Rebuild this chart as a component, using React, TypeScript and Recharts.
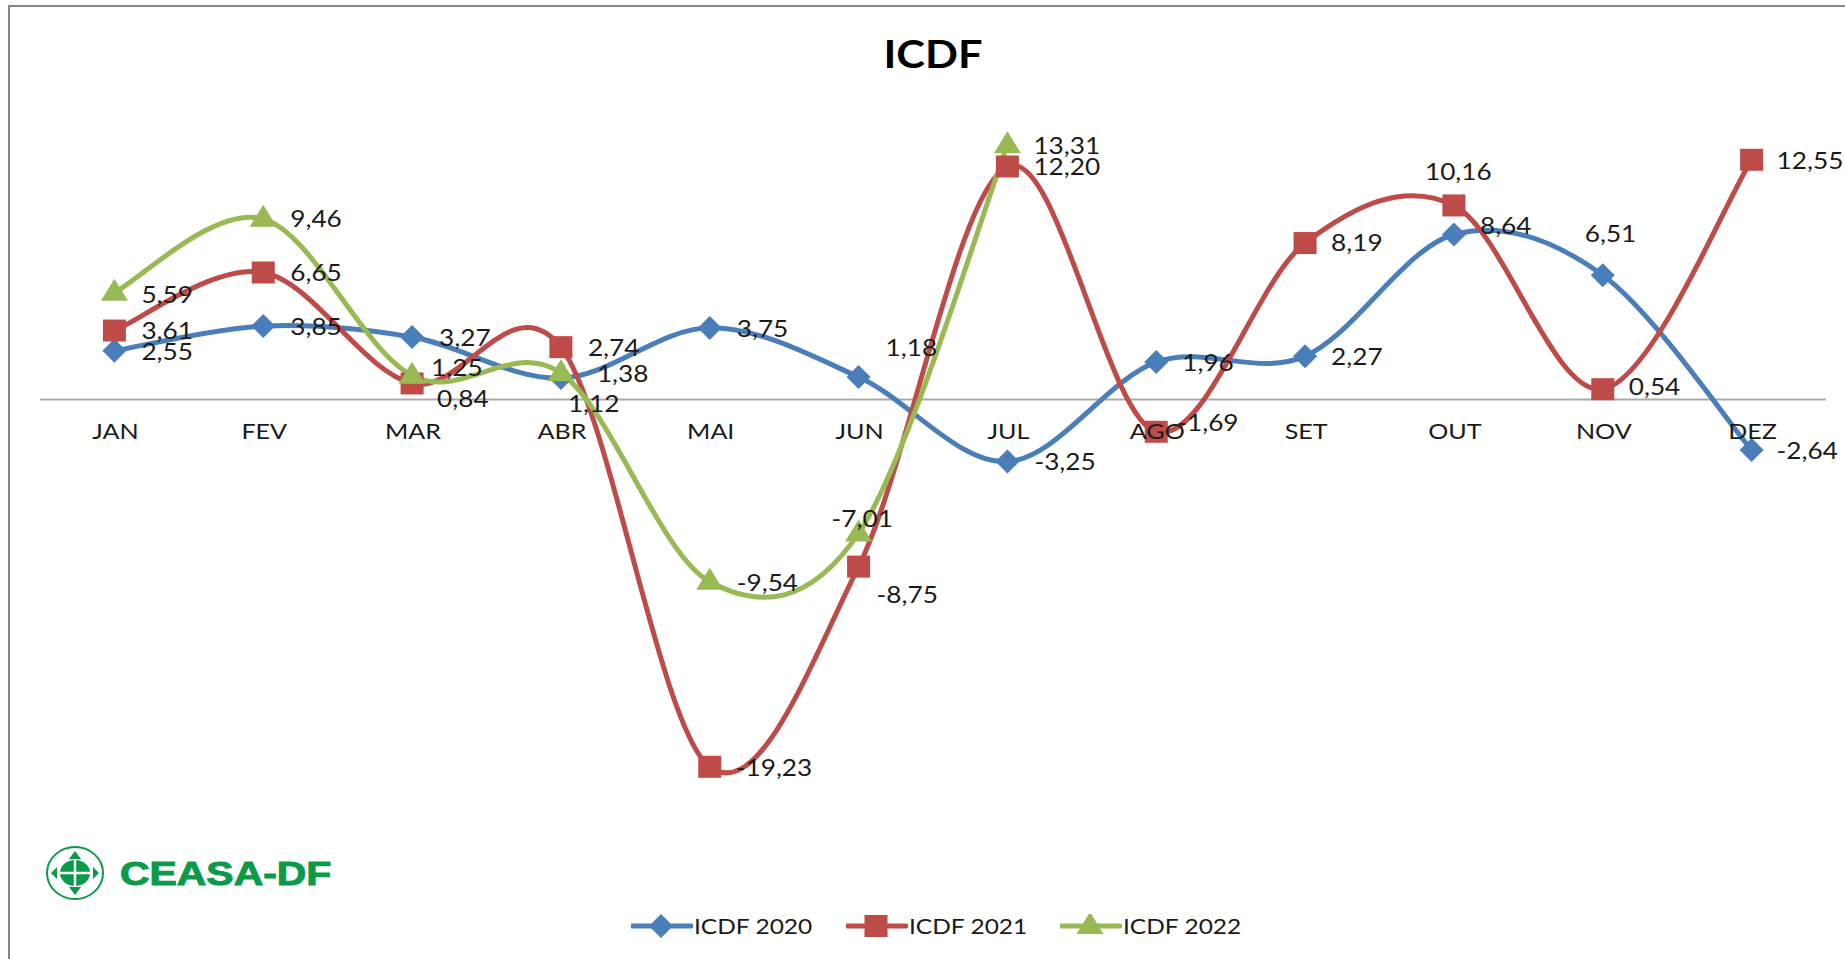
import { LineChart, Line, XAxis, YAxis, Legend, ReferenceLine } from "recharts";

const MONTHS = ["JAN", "FEV", "MAR", "ABR", "MAI", "JUN", "JUL", "AGO", "SET", "OUT", "NOV", "DEZ"];
const ICDF_2020 = [2.55, 3.85, 3.27, 1.12, 3.75, 1.18, -3.25, 1.96, 2.27, 8.64, 6.51, -2.64];
const ICDF_2021 = [3.61, 6.65, 0.84, 2.74, -19.23, -8.75, 12.2, -1.69, 8.19, 10.16, 0.54, 12.55];
const ICDF_2022 = [5.59, 9.46, 1.25, 1.38, -9.54, -7.01, 13.31, null, null, null, null, null];

const data = MONTHS.map((month, i) => ({
  month,
  icdf2020: ICDF_2020[i],
  icdf2021: ICDF_2021[i],
  icdf2022: ICDF_2022[i],
}));

// label offsets from the marker, pixels, dragged by hand in the original
const NUDGE_2020 = [[27, 0], [27, 0], [27, 0], [7, 25], [27, 0], [27, -30], [27, 0], [26, 0], [26, 0], [26, -9], [-18, -42], [25, 0]];
const NUDGE_2021 = [[27, 0], [27, 0], [25, 15], [27, 0], [26, 0], [18, 28], [26, 0], [21, -10], [26, -1], [-29, -34], [26, -3], [25, 0]];
const NUDGE_2022 = [[27, 1], [27, -1], [19, -8], [36, 0], [27, 0], [-27, -15], [26, 0]];

const BLUE = "#4A7EBB";
const RED = "#BE4B48";
const GREEN = "#98B954";
const TEXT = "#1a1a1a";
const FONT = "Lato, 'Open Sans', sans-serif";
const STRETCH = 1.14; // the picture is stretched sideways

// Excel style smoothing, same as a plain Catmull-Rom through the points
function excelCurve(context: any) {
  let pts: [number, number][] = [];
  return {
    areaStart() {},
    areaEnd() {},
    lineStart() {
      pts = [];
    },
    point(x: number, y: number) {
      pts.push([x, y]);
    },
    lineEnd() {
      if (!pts.length) return;
      context.moveTo(pts[0][0], pts[0][1]);
      for (let i = 0; i < pts.length - 1; i++) {
        const p0 = pts[Math.max(i - 1, 0)];
        const p1 = pts[i];
        const p2 = pts[i + 1];
        const p3 = pts[Math.min(i + 2, pts.length - 1)];
        context.bezierCurveTo(
          p1[0] + (p2[0] - p0[0]) / 6,
          p1[1] + (p2[1] - p0[1]) / 6,
          p2[0] - (p3[0] - p1[0]) / 6,
          p2[1] - (p3[1] - p1[1]) / 6,
          p2[0],
          p2[1]
        );
      }
    },
  };
}

function marker(kind: string, cx: number, cy: number, color: string) {
  if (kind === "diamond") {
    return <path d={`M${cx} ${cy - 12}L${cx + 12} ${cy}L${cx} ${cy + 12}L${cx - 12} ${cy}Z`} fill={color} />;
  }
  if (kind === "square") {
    return <rect x={cx - 11.5} y={cy - 11} width={23} height={22} fill={color} />;
  }
  return <path d={`M${cx} ${cy - 14}L${cx + 13.5} ${cy + 8}L${cx - 13.5} ${cy + 8}Z`} fill={color} />;
}

const makeDot = (kind: string, color: string) => (props: any) => {
  if (props.value == null) return <g key={props.index} />;
  return <g key={props.index}>{marker(kind, props.cx, props.cy, color)}</g>;
};

const makeLabel = (nudges: number[][]) => (props: any) => {
  const { x, y, value, index } = props;
  if (value == null) return <g key={index} />;
  const [dx, dy] = nudges[index];
  return (
    <text
      key={index}
      transform={`translate(${x + dx} ${y + dy}) scale(${STRETCH} 1)`}
      fontFamily={FONT}
      fontSize={23}
      fill={TEXT}
      dominantBaseline="central"
    >
      {String(value.toFixed(2)).replace(".", ",")}
    </text>
  );
};

function MonthTick(props: any) {
  const { x, payload } = props;
  return (
    <text
      transform={`translate(${x + 1} 431) scale(${STRETCH} 1)`}
      textAnchor="middle"
      dominantBaseline="central"
      fontFamily={FONT}
      fontSize={22}
      fill={TEXT}
    >
      {payload.value}
    </text>
  );
}

const LEGEND_KINDS: Record<string, string> = { icdf2020: "diamond", icdf2021: "square", icdf2022: "triangle" };

function ChartLegend(props: any) {
  return (
    <div style={{ display: "flex", alignItems: "center" }}>
      {(props.payload ?? []).map((item: any) => (
        <div key={item.dataKey} style={{ display: "flex", alignItems: "center", width: 214.5 }}>
          <svg width={62} height={24}>
            <line x1={1} x2={60} y1={12} y2={12} stroke={item.color} strokeWidth={5} strokeLinecap="round" />
            {marker(LEGEND_KINDS[item.dataKey], 30, 12, item.color)}
          </svg>
          <svg width={150} height={30}>
            <text
              transform={`translate(1 15) scale(${STRETCH} 1)`}
              dominantBaseline="central"
              fontFamily={FONT}
              fontSize={21.5}
              fill={TEXT}
            >
              {item.value}
            </text>
          </svg>
        </div>
      ))}
    </div>
  );
}

function Logo() {
  return (
    <svg width={320} height={70} style={{ position: "absolute", left: 40, top: 840 }}>
      <ellipse cx={35} cy={33} rx={28} ry={26} fill="none" stroke="#0a9a48" strokeWidth={2} />
      <path d="M35 11l6 8h-12zM35 55l6-8h-12zM11 33l6-6v12zM59 33l-6-6v12z" fill="#0a9a48" />
      <ellipse cx={35} cy={33} rx={15} ry={13} fill="#0a9a48" />
      <path d="M35 20v26M20 33h30" stroke="#fff" strokeWidth={2.5} />
      <text
        transform="translate(80 33) scale(1.24 1)"
        dominantBaseline="central"
        fontFamily="'Liberation Sans', Arial, sans-serif"
        fontWeight={700}
        fontSize={33}
        fill="#0a9a48"
        stroke="#0a9a48"
        strokeWidth={1}
      >
        CEASA-DF
      </text>
    </svg>
  );
}

export default function App() {
  return (
    <div style={{ position: "absolute", left: 0, top: 0, width: 1845, height: 959, background: "#fff", overflow: "hidden" }}>
      <div style={{ position: "absolute", left: 8, top: 5, width: 1837, height: 954, borderLeft: "2px solid #868686", borderTop: "2px solid #868686" }} />
      <LineChart
        width={1845}
        height={959}
        data={data}
        margin={{ top: 113, right: 19, bottom: 0, left: 40 }}
        style={{ position: "absolute", left: 0, top: 0 }}
      >
        <text
          transform="translate(933 54) scale(1.14 1)"
          textAnchor="middle"
          dominantBaseline="central"
          fontFamily={FONT}
          fontWeight={700}
          fontSize={38}
          fill="#000"
        >
          ICDF
        </text>
        <XAxis
          dataKey="month"
          axisLine={false}
          tickLine={false}
          tick={<MonthTick />}
          height={52}
          interval={0}
          padding={{ left: 74.4, right: 74.4 }}
        />
        <YAxis hide domain={[-25, 15]} width={0} />
        <ReferenceLine y={0} stroke="#ababab" strokeWidth={2} />
        <Line
          dataKey="icdf2020"
          name="ICDF 2020"
          type={excelCurve as any}
          stroke={BLUE}
          strokeWidth={5}
          dot={makeDot("diamond", BLUE)}
          label={makeLabel(NUDGE_2020)}
          isAnimationActive={false}
        />
        <Line
          dataKey="icdf2021"
          name="ICDF 2021"
          type={excelCurve as any}
          stroke={RED}
          strokeWidth={5}
          dot={makeDot("square", RED)}
          label={makeLabel(NUDGE_2021)}
          isAnimationActive={false}
        />
        <Line
          dataKey="icdf2022"
          name="ICDF 2022"
          type={excelCurve as any}
          stroke={GREEN}
          strokeWidth={5}
          dot={makeDot("triangle", GREEN)}
          label={makeLabel(NUDGE_2022)}
          isAnimationActive={false}
        />
        <Legend content={<ChartLegend />} wrapperStyle={{ position: "absolute", left: 631, top: 911, width: 660, bottom: "auto" }} />
      </LineChart>
      <Logo />
    </div>
  );
}
